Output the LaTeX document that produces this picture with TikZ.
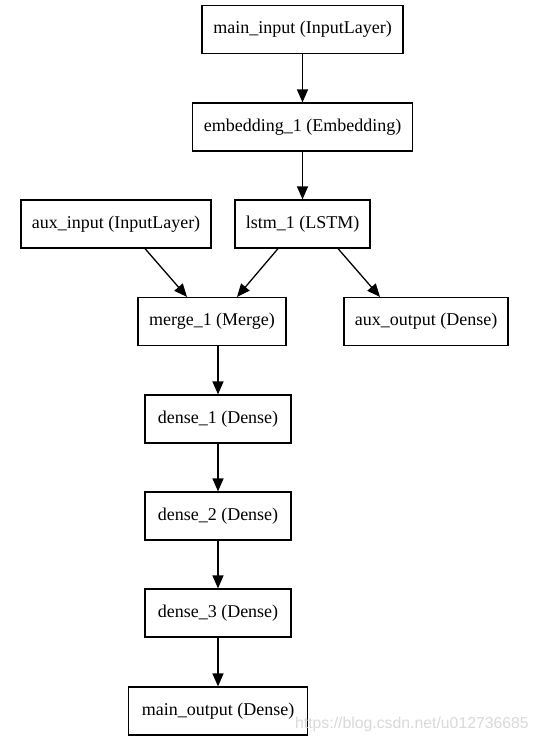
\documentclass[tikz,border=0pt]{standalone}
\usepackage{fontspec}
\setmainfont{Liberation Serif}
\newfontfamily\wmfont{Liberation Sans}
\usetikzlibrary{arrows.meta}
\tikzset{
  layer/.style={draw=black, line width=1.2pt, fill=white, minimum height=48pt, inner sep=0pt,
    font=\fontsize{18}{20}\selectfont},
  conn/.style={line width=1.3pt, -{Triangle[length=13pt,width=11pt]}}
}
\begin{document}
\begin{tikzpicture}[x=1pt,y=-1pt]
\useasboundingbox (0,0) rectangle (538,741);
\node[layer, minimum width=201pt] (mi) at (302.5,29.5) {main\_input (InputLayer)};
\node[layer, minimum width=220pt] (emb) at (302.5,127) {embedding\_1 (Embedding)};
\node[layer, minimum width=190pt] (ai) at (116,224) {aux\_input (InputLayer)};
\node[layer, minimum width=135pt] (lstm) at (302.5,224) {lstm\_1 (LSTM)};
\node[layer, minimum width=148pt] (mer) at (212,321.5) {merge\_1 (Merge)};
\node[layer, minimum width=164pt] (ao) at (426,321.5) {aux\_output (Dense)};
\node[layer, minimum width=146pt] (d1) at (218,419) {dense\_1 (Dense)};
\node[layer, minimum width=146pt] (d2) at (218,516) {dense\_2 (Dense)};
\node[layer, minimum width=146pt] (d3) at (218,613) {dense\_3 (Dense)};
\node[layer, minimum width=179pt] (mo) at (218,711) {main\_output (Dense)};
\draw[conn] (mi.south) -- (emb.north);
\draw[conn] (emb.south) -- (lstm.north);
\draw[conn] ([xshift=29pt]ai.south) -- ([xshift=-25pt]mer.north);
\draw[conn] ([xshift=-24.5pt]lstm.south) -- ([xshift=25pt]mer.north);
\draw[conn] ([xshift=35.5pt]lstm.south) -- ([xshift=-46pt]ao.north);
\draw[conn] ([xshift=6pt]mer.south) -- (d1.north);
\draw[conn] (d1.south) -- (d2.north);
\draw[conn] (d2.south) -- (d3.north);
\draw[conn] (d3.south) -- (mo.north);
\node[anchor=base east, inner sep=0pt, text=gray!35, opacity=0.85, font=\wmfont\fontsize{15.8}{17}\selectfont] (wm) at (529,728) {https://blog.csdn.net/u012736685};
\end{tikzpicture}
\end{document}
